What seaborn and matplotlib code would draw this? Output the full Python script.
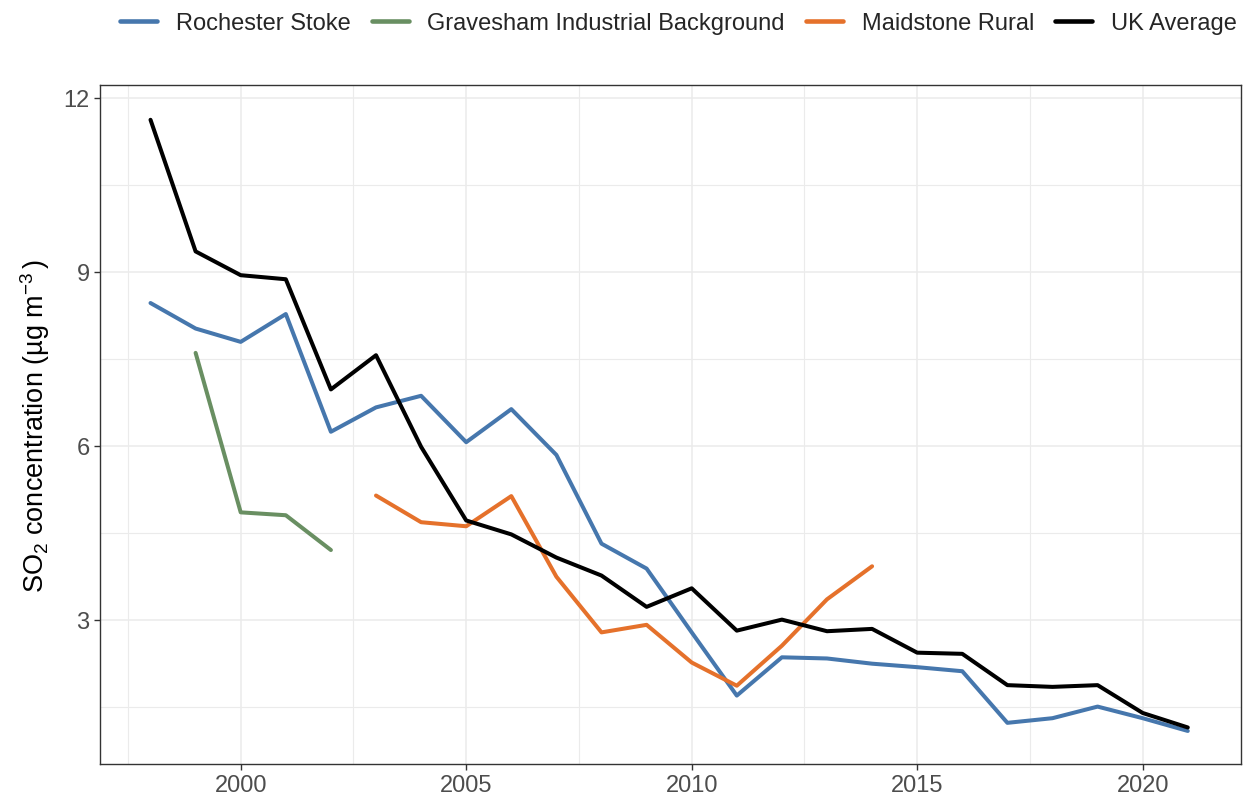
import numpy as np
import pandas as pd
import seaborn as sns
import matplotlib.pyplot as plt
from matplotlib.ticker import MultipleLocator

# values
rochester_years = list(range(1998, 2022))
rochester_vals = [8.46, 8.02, 7.79, 8.27, 6.24, 6.66, 6.86, 6.06, 6.63, 5.84, 4.31, 3.88,
                  2.78, 1.69, 2.35, 2.33, 2.24, 2.18, 2.11, 1.22, 1.30, 1.50, 1.30, 1.08]

gravesham_years = [1999, 2000, 2001, 2002]
gravesham_vals = [7.6, 4.85, 4.8, 4.2]

maidstone_years = list(range(2003, 2015))
maidstone_vals = [5.14, 4.68, 4.61, 5.13, 3.74, 2.78, 2.91, 2.26, 1.86, 2.55, 3.35, 3.92]

uk_years = list(range(1998, 2022))
uk_vals = [11.62, 9.35, 8.94, 8.87, 6.97, 7.56, 5.98, 4.71, 4.47, 4.07, 3.76, 3.22,
           3.54, 2.81, 3.0, 2.80, 2.84, 2.43, 2.41, 1.87, 1.84, 1.87, 1.39, 1.14]

series = ["Rochester Stoke", "Gravesham Industrial Background", "Maidstone Rural", "UK Average"]
colours = ["#4677ad", "#698f62", "#e5712b", "#000000"]

df = pd.concat([
    pd.DataFrame({"year": rochester_years, "so2": rochester_vals, "site": series[0]}),
    pd.DataFrame({"year": gravesham_years, "so2": gravesham_vals, "site": series[1]}),
    pd.DataFrame({"year": maidstone_years, "so2": maidstone_vals, "site": series[2]}),
    pd.DataFrame({"year": uk_years, "so2": uk_vals, "site": series[3]}),
])

sns.set_theme(style="white")
plt.rcParams["font.family"] = ["Liberation Sans", "DejaVu Sans"]
plt.rcParams["mathtext.fontset"] = "custom"
plt.rcParams["mathtext.rm"] = "Liberation Sans"
plt.rcParams["mathtext.it"] = "Liberation Sans:italic"

fig = plt.figure(figsize=(12.45, 8.03), dpi=100)
ax = fig.add_axes([100 / 1245, 1 - 765 / 803, 1141 / 1245, (765 - 86) / 803])

sns.lineplot(data=df, x="year", y="so2", hue="site", hue_order=series,
             palette=colours, linewidth=2.9, ax=ax, legend=False, estimator=None)

ax.set_xlim(1996.88, 2022.18)
ax.set_ylim(0.51, 12.22)
ax.xaxis.set_major_locator(MultipleLocator(5))
ax.xaxis.set_minor_locator(MultipleLocator(2.5))
ax.yaxis.set_major_locator(MultipleLocator(3))
ax.yaxis.set_minor_locator(MultipleLocator(1.5))
ax.grid(which="major", color="#ebebeb", linewidth=1.1)
ax.grid(which="minor", color="#ebebeb", linewidth=0.8)
ax.set_axisbelow(True)
for s in ax.spines.values():
    s.set_color("#333333")
    s.set_linewidth(1.0)
ax.tick_params(which="major", bottom=True, left=True, length=4.5, width=1.0, color="#333333",
               labelsize=17, labelcolor="#4d4d4d", pad=3)
ax.tick_params(which="minor", length=0)
ax.set_xlabel("")
ax.set_ylabel(r"SO$_{\mathregular{2}}$ concentration (µg m$^{\mathregular{-3}}$$\,$)",
              fontsize=19.5, color="black", labelpad=8)

handles = [plt.Line2D([], [], color=c, linewidth=3.3) for c in colours]
fig.legend(handles, series, loc="center", bbox_to_anchor=(0.545, 0.970), ncol=4,
           frameon=False, fontsize=17, handlelength=1.55, handletextpad=0.8, columnspacing=0.9)

fig.savefig("out.png", dpi=100)
